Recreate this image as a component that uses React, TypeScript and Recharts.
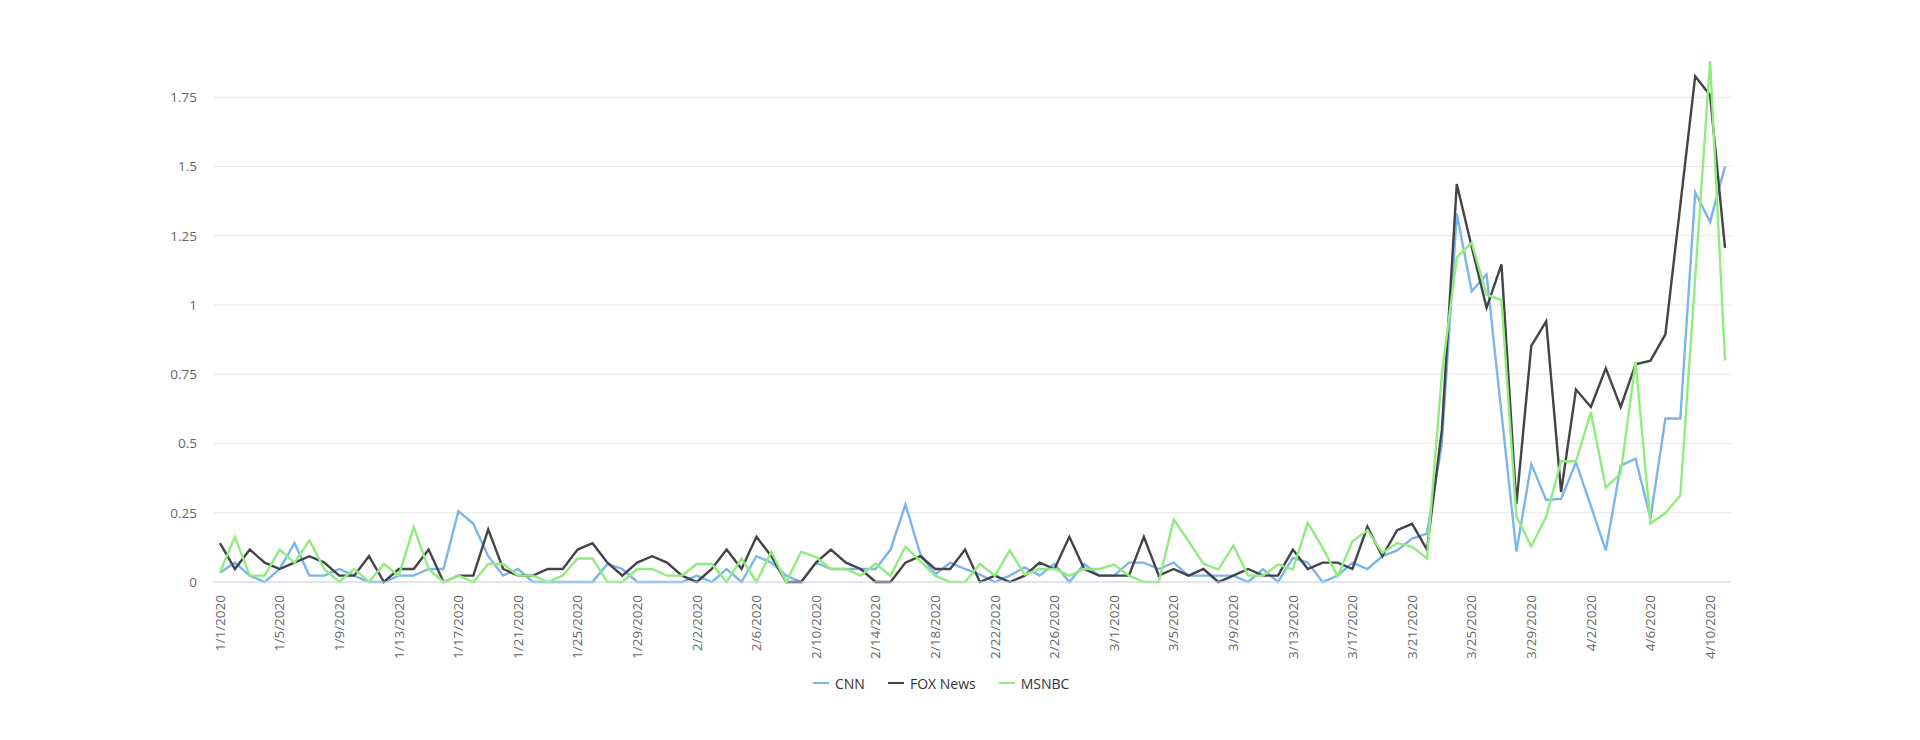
import React from 'react';
import { LineChart, Line, XAxis, YAxis, CartesianGrid, Legend } from 'recharts';

const dates = [
  '1/1/2020','1/2/2020','1/3/2020','1/4/2020','1/5/2020','1/6/2020','1/7/2020','1/8/2020','1/9/2020','1/10/2020',
  '1/11/2020','1/12/2020','1/13/2020','1/14/2020','1/15/2020','1/16/2020','1/17/2020','1/18/2020','1/19/2020','1/20/2020',
  '1/21/2020','1/22/2020','1/23/2020','1/24/2020','1/25/2020','1/26/2020','1/27/2020','1/28/2020','1/29/2020','1/30/2020',
  '1/31/2020','2/1/2020','2/2/2020','2/3/2020','2/4/2020','2/5/2020','2/6/2020','2/7/2020','2/8/2020','2/9/2020',
  '2/10/2020','2/11/2020','2/12/2020','2/13/2020','2/14/2020','2/15/2020','2/16/2020','2/17/2020','2/18/2020','2/19/2020',
  '2/20/2020','2/21/2020','2/22/2020','2/23/2020','2/24/2020','2/25/2020','2/26/2020','2/27/2020','2/28/2020','2/29/2020',
  '3/1/2020','3/2/2020','3/3/2020','3/4/2020','3/5/2020','3/6/2020','3/7/2020','3/8/2020','3/9/2020','3/10/2020',
  '3/11/2020','3/12/2020','3/13/2020','3/14/2020','3/15/2020','3/16/2020','3/17/2020','3/18/2020','3/19/2020','3/20/2020',
  '3/21/2020','3/22/2020','3/23/2020','3/24/2020','3/25/2020','3/26/2020','3/27/2020','3/28/2020','3/29/2020','3/30/2020',
  '3/31/2020','4/1/2020','4/2/2020','4/3/2020','4/4/2020','4/5/2020','4/6/2020','4/7/2020','4/8/2020','4/9/2020',
  '4/10/2020','4/11/2020'
];

const cnn = [
  0.033, 0.07, 0.023, 0, 0.047, 0.14, 0.023, 0.023, 0.047, 0.023,
  0, 0, 0.023, 0.023, 0.047, 0.047, 0.256, 0.21, 0.093, 0.023,
  0.047, 0, 0, 0, 0, 0, 0.065, 0.047, 0, 0,
  0, 0, 0.023, 0, 0.047, 0, 0.093, 0.07, 0.023, 0,
  0.07, 0.047, 0.047, 0.047, 0.047, 0.117, 0.28, 0.1, 0.027, 0.07,
  0.047, 0.027, 0, 0.023, 0.053, 0.023, 0.065, 0, 0.065, 0.023,
  0.023, 0.07, 0.07, 0.047, 0.07, 0.023, 0.023, 0.023, 0.023, 0,
  0.047, 0, 0.087, 0.07, 0, 0.023, 0.07, 0.047, 0.093, 0.114,
  0.157, 0.175, 0.5, 1.33, 1.05, 1.11, 0.61, 0.11, 0.426, 0.296,
  0.3, 0.432, 0.274, 0.114, 0.42, 0.445, 0.23, 0.59, 0.59, 1.406,
  1.3, 1.5
];

const fox = [
  0.14, 0.047, 0.117, 0.07, 0.047, 0.07, 0.093, 0.07, 0.023, 0.023,
  0.093, 0, 0.047, 0.047, 0.117, 0, 0.023, 0.023, 0.19, 0.047,
  0.023, 0.023, 0.047, 0.047, 0.117, 0.14, 0.07, 0.023, 0.07, 0.093,
  0.07, 0.023, 0, 0.047, 0.117, 0.047, 0.163, 0.093, 0, 0,
  0.07, 0.117, 0.07, 0.047, 0, 0, 0.07, 0.093, 0.047, 0.047,
  0.117, 0, 0.023, 0, 0.023, 0.07, 0.047, 0.163, 0.047, 0.023,
  0.023, 0.023, 0.163, 0.023, 0.047, 0.023, 0.047, 0, 0.023, 0.047,
  0.023, 0.023, 0.117, 0.047, 0.07, 0.07, 0.047, 0.2, 0.093, 0.187,
  0.21, 0.117, 0.55, 1.437, 1.21, 0.99, 1.147, 0.281, 0.852, 0.941,
  0.325, 0.695, 0.632, 0.771, 0.632, 0.786, 0.799, 0.894, 1.36, 1.826,
  1.757, 1.206
];

const msnbc = [
  0.035, 0.163, 0.023, 0.023, 0.117, 0.07, 0.15, 0.047, 0, 0.047,
  0, 0.065, 0.023, 0.198, 0.047, 0, 0.023, 0, 0.065, 0.065,
  0.023, 0.023, 0, 0.023, 0.085, 0.085, 0, 0, 0.047, 0.047,
  0.023, 0.023, 0.065, 0.065, 0, 0.085, 0, 0.109, 0, 0.109,
  0.09, 0.047, 0.047, 0.023, 0.066, 0.023, 0.127, 0.075, 0.023, 0,
  0, 0.065, 0.023, 0.114, 0.027, 0.047, 0.047, 0.023, 0.047, 0.047,
  0.063, 0.023, 0, 0, 0.226, 0.147, 0.066, 0.045, 0.132, 0.023,
  0.023, 0.063, 0.045, 0.214, 0.123, 0.021, 0.147, 0.187, 0.105, 0.141,
  0.127, 0.085, 0.75, 1.172, 1.225, 1.037, 1.018, 0.236, 0.129, 0.236,
  0.436, 0.436, 0.613, 0.341, 0.392, 0.795, 0.211, 0.249, 0.312, 1.1,
  1.88, 0.8
];

const yTicks = [0, 0.25, 0.5, 0.75, 1, 1.25, 1.5, 1.75];
const yMax = 2;

const seriesNames = ['CNN', 'FOX News', 'MSNBC'];
const seriesColors = ['#7cb5ec', '#434348', '#90ed7d'];

const data = dates.map((d, i) => ({
  date: d,
  CNN: cnn[i],
  'FOX News': fox[i],
  MSNBC: msnbc[i],
}));

const FONT = '"Open Sans", "DejaVu Sans", sans-serif';

const XTick = (props: any) => {
  const { x, y, payload } = props;
  return (
    <text
      x={x}
      y={y}
      transform={`rotate(-90 ${x} ${y})`}
      textAnchor="end"
      dy="0.35em"
      fill="#666666"
      fontSize={13.5}
      fontFamily={FONT}
    >
      {payload.value}
    </text>
  );
};

const renderLegend = (props: any) => {
  const payload = props.payload || [];
  return (
    <div style={{ position: 'relative', height: 20, width: 1904 }}>
      <div
        style={{
          position: 'absolute',
          left: 805,
          top: 0,
          height: 20,
          display: 'flex',
          alignItems: 'center',
          fontFamily: FONT,
          fontSize: 14,
          color: '#333333',
          whiteSpace: 'nowrap',
        }}
      >
        {payload.map((p: any, i: number) => (
          <div key={i} style={{ display: 'flex', alignItems: 'center', marginRight: 23 }}>
            <span style={{ display: 'inline-block', width: 16, height: 2.4, background: p.color, marginRight: 6 }} />
            <span>{p.value}</span>
          </div>
        ))}
      </div>
    </div>
  );
};

const gridRows = (args: any) => {
  const off = args && args.offset ? args.offset : { top: 20, height: 554 };
  const top = off.top;
  const h = off.height;
  return yTicks.map((t) => top + h - (t / yMax) * h);
};

export default function App() {
  return (
    <div style={{ width: 1904, height: 724 }}>
      <LineChart
        width={1904}
        height={724}
        data={data}
        margin={{ top: 20, right: 181, left: 146, bottom: 39 }}
      >
        <CartesianGrid
          horizontal
          vertical={false}
          stroke="#e6e6e6"
          horizontalCoordinatesGenerator={gridRows}
        />
        <XAxis
          dataKey="date"
          interval={3}
          padding={{ left: 6, right: 6 }}
          height={91}
          tickSize={0}
          tickMargin={13}
          tickLine={false}
          axisLine={{ stroke: '#ccd6eb' }}
          tick={<XTick />}
        />
        <YAxis
          domain={[0, yMax]}
          ticks={yTicks}
          width={60}
          tickSize={0}
          tickMargin={17}
          tickLine={false}
          axisLine={false}
          tick={{ fill: '#666666', fontSize: 13.5, fontFamily: FONT }}
        />
        <Legend
          verticalAlign="bottom"
          content={renderLegend}
          wrapperStyle={{ left: 0, width: 1904 }}
        />
        {seriesNames.map((name, i) => (
          <Line
            key={name}
            type="linear"
            dataKey={name}
            stroke={seriesColors[i]}
            strokeWidth={2.4}
            dot={false}
            activeDot={false}
            isAnimationActive={false}
          />
        ))}
      </LineChart>
    </div>
  );
}
